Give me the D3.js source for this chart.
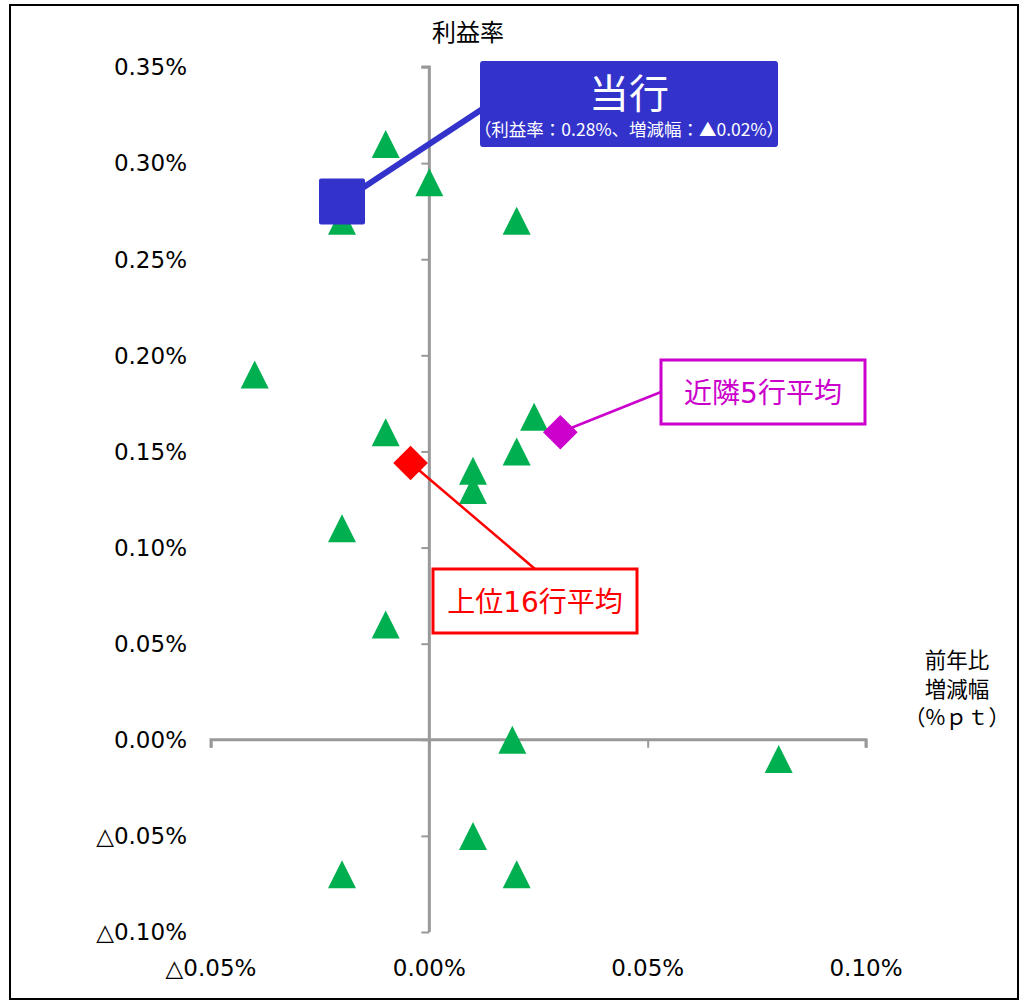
<!DOCTYPE html>
<html><head><meta charset="utf-8">
<script src="https://cdn.jsdelivr.net/npm/d3@7"></script>
<style>
html,body{margin:0;padding:0;background:#fff;}
svg{display:block;}
</style></head>
<body>
<svg id="c" width="1020" height="1001"></svg>
<script>
// ---- data (values in %) ----
const banksX = [-0.01, 0.00, -0.02, 0.02, -0.04, -0.01, 0.024, 0.02, 0.01, 0.01, -0.02, -0.01, 0.019, 0.08, 0.01, -0.02, 0.02];
const banksY = [0.31, 0.29, 0.27, 0.27, 0.19, 0.16, 0.168, 0.15, 0.14, 0.13, 0.11, 0.06, 0.00, -0.01, -0.05, -0.07, -0.07];
const ownBank = {name: "当行", x: -0.02, y: 0.28, sub: "（利益率：0.28%、増減幅：▲0.02%）"};
const top16 = {name: "上位16行平均", x: -0.0043, y: 0.144};
const near5 = {name: "近隣5行平均", x: 0.030, y: 0.160};
const xTicks = [-0.05, 0.00, 0.05, 0.10];
const yTicks = [-0.10, -0.05, 0.00, 0.05, 0.10, 0.15, 0.20, 0.25, 0.30, 0.35];
const yTitle = "利益率";
const xTitle = ["前年比", "増減幅", "（%ｐｔ）"];

const fmt = v => (v < 0 ? "△" : "") + Math.abs(v).toFixed(2) + "%";

const svg = d3.select("#c");
const x = d3.scaleLinear().domain([-0.05, 0.10]).range([211, 866]);
const y = d3.scaleLinear().domain([-0.10, 0.35]).range([932, 67]);

const NUM = "'DejaVu Sans', Verdana, sans-serif";
const JP = "'Noto Sans CJK JP', sans-serif";
const MIX = "'DejaVu Sans', 'Noto Sans CJK JP', sans-serif";

// border
svg.append("rect").attr("x", 10).attr("y", 5).attr("width", 1008).attr("height", 994)
  .attr("fill", "#fff").attr("stroke", "#000").attr("stroke-width", 2);

// axes
const axisColor = "#999";
const gx = svg.append("g").attr("transform", `translate(0,${y(0)})`)
  .call(d3.axisBottom(x).tickValues(xTicks).tickSize(8).tickFormat(""));
const gy = svg.append("g").attr("transform", `translate(${x(0)},0)`)
  .call(d3.axisLeft(y).tickValues(yTicks).tickSize(8).tickFormat(""));
[gx, gy].forEach(g => {
  g.select(".domain").attr("stroke", axisColor).attr("stroke-width", 3);
  g.selectAll(".tick line").attr("stroke", axisColor).attr("stroke-width", 2);
});
gx.select(".domain").attr("d", `M${x(-0.05)},8V0H${x(0.10)}V8`);
gy.select(".domain").attr("d", `M-8,${y(0.35)}H0V${y(-0.10)}`);

// tick labels
svg.append("g").selectAll("text").data(yTicks).join("text")
  .attr("x", 187).attr("y", d => y(d)).attr("dy", "0.36em")
  .attr("text-anchor", "end").attr("font-family", NUM).attr("font-size", 23)
  .attr("fill", "#000").text(fmt);
svg.append("g").selectAll("text").data(xTicks).join("text")
  .attr("x", d => x(d)).attr("y", 976)
  .attr("text-anchor", "middle").attr("font-family", NUM).attr("font-size", 23)
  .attr("fill", "#000").text(fmt);

// axis titles
svg.append("text").attr("x", 468).attr("y", 41).attr("text-anchor", "middle")
  .attr("font-family", JP).attr("font-size", 24).attr("fill", "#000").text(yTitle);
svg.append("g").selectAll("text").data(xTitle).join("text")
  .attr("x", 957).attr("y", (d, i) => 668 + i * 28.5).attr("text-anchor", "middle")
  .attr("font-family", JP).attr("font-size", 21.5).attr("fill", "#000").text(d => d);

// bank triangles (28 x 28, centred on the value)
const triPath = "M0,-14L14,14L-14,14Z";
const bankData = banksX.map((v, i) => ({x: v, y: banksY[i]}));
svg.append("g").selectAll("path").data(bankData).join("path")
  .attr("transform", d => `translate(${x(d.x)},${y(d.y)})`)
  .attr("d", triPath).attr("fill", "#00B050");

// ---- callouts ----
// top16 (red)
const redC = "#FF0000";
svg.append("line").attr("x1", x(top16.x)).attr("y1", y(top16.y))
  .attr("x2", 535).attr("y2", 569).attr("stroke", redC).attr("stroke-width", 2.5);
svg.append("rect").attr("x", 433).attr("y", 569).attr("width", 204).attr("height", 64)
  .attr("fill", "#fff").attr("stroke", redC).attr("stroke-width", 3);
svg.append("text").attr("x", 535).attr("y", 612).attr("text-anchor", "middle")
  .attr("font-family", MIX).attr("font-size", 28).attr("fill", redC).text(top16.name);
svg.append("path").attr("transform", `translate(${x(top16.x)},${y(top16.y)}) rotate(45)`)
  .attr("d", d3.symbol().type(d3.symbolSquare).size(600)).attr("fill", redC);

// near5 (magenta)
const magC = "#CC00CC";
svg.append("line").attr("x1", x(near5.x)).attr("y1", y(near5.y))
  .attr("x2", 661).attr("y2", 392).attr("stroke", magC).attr("stroke-width", 2.5);
svg.append("rect").attr("x", 661).attr("y", 360).attr("width", 204).attr("height", 64)
  .attr("fill", "#fff").attr("stroke", magC).attr("stroke-width", 3);
svg.append("text").attr("x", 763).attr("y", 403).attr("text-anchor", "middle")
  .attr("font-family", MIX).attr("font-size", 28).attr("fill", magC).text(near5.name);
svg.append("path").attr("transform", `translate(${x(near5.x)},${y(near5.y)}) rotate(45)`)
  .attr("d", d3.symbol().type(d3.symbolSquare).size(600)).attr("fill", magC);

// own bank (blue)
const blueC = "#3333CC";
svg.append("line").attr("x1", x(ownBank.x)).attr("y1", y(ownBank.y))
  .attr("x2", 490).attr("y2", 104).attr("stroke", blueC).attr("stroke-width", 6);
svg.append("rect").attr("x", x(ownBank.x) - 23).attr("y", y(ownBank.y) - 23)
  .attr("width", 46).attr("height", 46).attr("rx", 2).attr("fill", blueC);
svg.append("rect").attr("x", 480).attr("y", 61).attr("width", 298).attr("height", 86)
  .attr("rx", 3).attr("fill", blueC);
svg.append("text").attr("x", 629).attr("y", 108).attr("text-anchor", "middle")
  .attr("font-family", JP).attr("font-size", 40).attr("fill", "#fff").text(ownBank.name);
svg.append("text").attr("x", 629).attr("y", 136).attr("text-anchor", "middle")
  .attr("font-family", JP).attr("font-size", 17.5).attr("fill", "#fff").text(ownBank.sub);
</script>
</body></html>
